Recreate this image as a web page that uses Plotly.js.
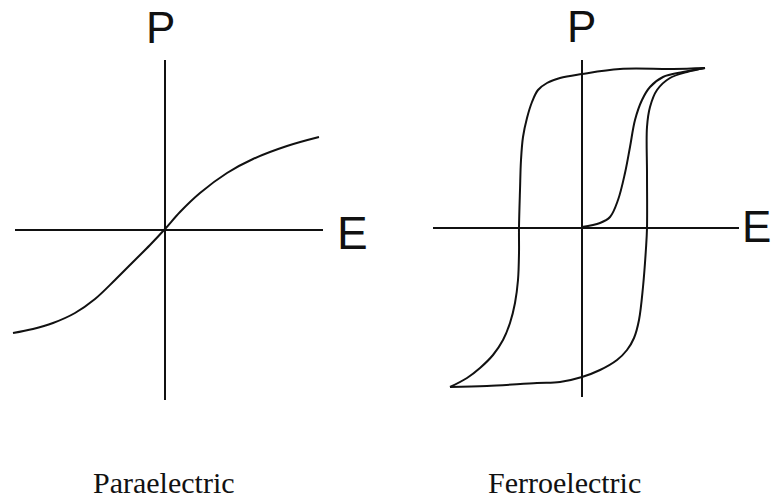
<!DOCTYPE html>
<html>
<head>
<meta charset="utf-8">
<script src="https://cdn.plot.ly/plotly-3.0.1.min.js"></script>
<style>html,body{margin:0;padding:0;background:#fff;}#chart{width:772px;height:498px;}</style>
</head>
<body>
<div id="chart"></div>
<script>
// ---- Data (arbitrary field E / polarization P units) ----
// Paraelectric panel
var paraAxisE = [-15.0, 15.8];
var paraAxisP = [17.0, -17.0];
var paraE = [-15.2, -13.2, -11.2, -9.0, -7.0, -5.0, -3.0, -1.5, 0, 1.5, 3.5, 6.2, 8.8, 12.2, 15.4];
var paraP = [-10.3, -9.9, -9.3, -8.3, -6.9, -5.0, -3.0, -1.5, 0.1, 1.8, 3.7, 5.7, 7.1, 8.4, 9.3];

// Ferroelectric panel
var ferroAxisE = [-14.9, 15.7];
var ferroAxisP = [16.8, -16.9];
// upper (descending) branch: from positive saturation to negative saturation
var upperE = [12.3, 9.1, 3.8, 0, -2.2, -3.5, -4.4, -5.0, -5.5, -5.9, -6.1, -6.2, -6.3, -6.3, -6.4, -6.7, -7.2, -7.9, -8.9, -10.2, -11.5, -13.2];
var upperP = [16.0, 15.9, 15.9, 15.4, 15.0, 14.5, 13.8, 12.6, 11.0, 9.1, 6.8, 3.8, 0, -2.5, -5.2, -7.5, -9.5, -11.2, -12.7, -14.0, -15.0, -15.9];
// lower (ascending) branch: from negative saturation to positive saturation
var lowerE = [-13.2, -9.5, -4.5, -2.2, 0, 1.8, 3.5, 4.5, 5.2, 5.7, 6.1, 6.4, 6.5, 6.5, 6.5, 6.8, 7.5, 8.8, 10.5, 12.3];
var lowerP = [-15.9, -15.8, -15.5, -15.4, -14.9, -14.2, -13.2, -12.2, -11.0, -9.2, -5.9, -2.0, 0, 5.5, 10.1, 12.1, 13.8, 15.0, 15.6, 16.0];
// initial (virgin) polarization curve
var initE = [0, 1.8, 2.8, 3.6, 4.3, 4.8, 5.3, 6.0, 6.8, 8.1, 10.1, 12.3];
var initP = [0.1, 0.5, 1.1, 2.8, 5.5, 8.1, 10.8, 12.8, 14.1, 15.1, 15.6, 16.0];

var axisLabels = ["P", "E"];
var panelTitles = ["Paraelectric", "Ferroelectric"];

var ink = "#111111";
function line(x, y, xa, ya, shape) {
  return {x: x, y: y, xaxis: xa, yaxis: ya, mode: "lines", hoverinfo: "skip",
          line: {color: ink, width: 2, shape: shape || "linear", smoothing: 1}};
}

var traces = [
  line(paraAxisE, [0, 0], "x", "y"),
  line([0, 0], paraAxisP, "x", "y"),
  line(paraE, paraP, "x", "y", "spline"),
  line(ferroAxisE, [0, 0], "x2", "y2"),
  line([0, 0], ferroAxisP, "x2", "y2"),
  line(upperE, upperP, "x2", "y2", "spline"),
  line(lowerE, lowerP, "x2", "y2", "spline"),
  line(initE, initP, "x2", "y2", "spline")
];

var sans = "Liberation Sans, Arial, sans-serif";
var serif = "Liberation Serif, Times New Roman, serif";
var hidden = {visible: false, showgrid: false, zeroline: false, fixedrange: true};

var layout = {
  width: 772, height: 498,
  margin: {l: 0, r: 0, t: 0, b: 0},
  paper_bgcolor: "#ffffff", plot_bgcolor: "#ffffff",
  showlegend: false,
  xaxis: Object.assign({domain: [0, 0.5], range: [-16.5, 22.1]}, hidden),
  yaxis: Object.assign({domain: [0, 1], range: [-26.8, 23.0]}, hidden),
  xaxis2: Object.assign({domain: [0.5, 1], range: [-19.6, 19.0], anchor: "y2"}, hidden),
  yaxis2: Object.assign({domain: [0, 1], range: [-27.0, 22.8], anchor: "x2"}, hidden),
  annotations: [
    {xref: "x", yref: "y", x: -0.5, y: 20.3, text: axisLabels[0], showarrow: false,
     xanchor: "center", yanchor: "middle", font: {family: sans, size: 44, color: ink}},
    {xref: "x", yref: "y", x: 18.7, y: -0.3, text: axisLabels[1], showarrow: false,
     xanchor: "center", yanchor: "middle", font: {family: sans, size: 46, color: ink}},
    {xref: "x2", yref: "y2", x: -0.1, y: 20.2, text: axisLabels[0], showarrow: false,
     xanchor: "center", yanchor: "middle", font: {family: sans, size: 44, color: ink}},
    {xref: "x2", yref: "y2", x: 19.0, y: 0.2, text: axisLabels[1], showarrow: false,
     xanchor: "right", yanchor: "middle", borderpad: 0, font: {family: sans, size: 44, color: ink}},
    {xref: "x", yref: "paper", x: -0.1, y: 1 - 482 / 498, text: panelTitles[0], showarrow: false,
     xanchor: "center", yanchor: "middle", font: {family: serif, size: 30, color: ink}},
    {xref: "x2", yref: "paper", x: -1.8, y: 1 - 482 / 498, text: panelTitles[1], showarrow: false,
     xanchor: "center", yanchor: "middle", font: {family: serif, size: 30, color: ink}}
  ]
};

Plotly.newPlot("chart", traces, layout, {staticPlot: true, displayModeBar: false});
</script>
</body>
</html>
